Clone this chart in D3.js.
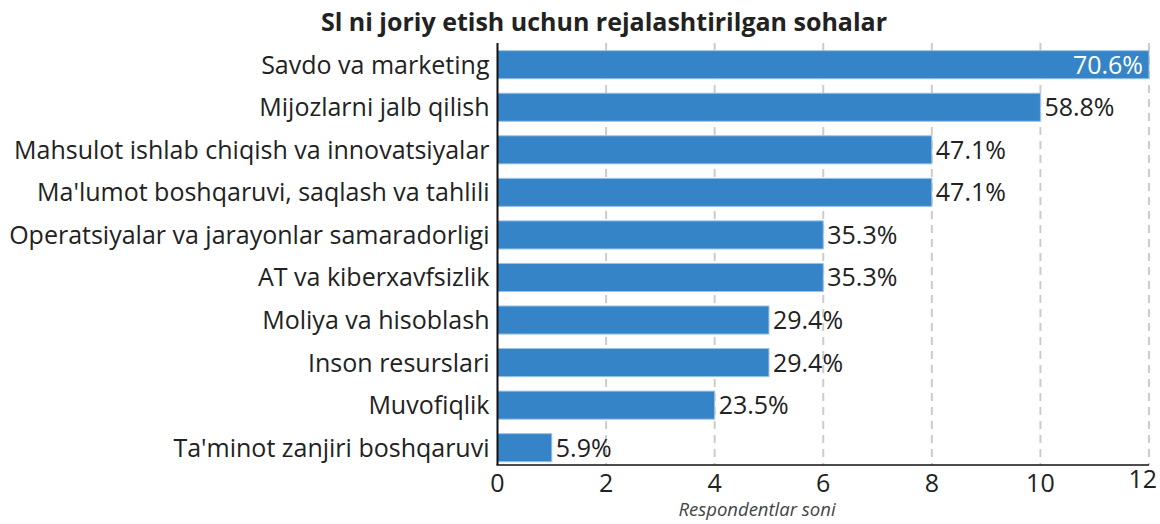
<!DOCTYPE html>
<html>
<head>
  <meta charset="utf-8">
  <title>Sl ni joriy etish</title>
  <script src="https://d3js.org/d3.v7.min.js"></script>
  <style>
    body { margin: 0; background: #fff; }
    text { font-family: "Open Sans", "Noto Sans", sans-serif; fill: #222; }
    .grid line { stroke: #cccccc; stroke-width: 2; stroke-dasharray: 8,6; }
  </style>
</head>
<body>
<div id="chart"></div>
<script>
// data
var categories = ["Savdo va marketing",
                  "Mijozlarni jalb qilish",
                  "Mahsulot ishlab chiqish va innovatsiyalar",
                  "Ma'lumot boshqaruvi, saqlash va tahlili",
                  "Operatsiyalar va jarayonlar samaradorligi",
                  "AT va kiberxavfsizlik",
                  "Moliya va hisoblash",
                  "Inson resurslari",
                  "Muvofiqlik",
                  "Ta'minot zanjiri boshqaruvi"];
var counts = [12, 10, 8, 8, 6, 6, 5, 5, 4, 1];
var percents = ["70.6%", "58.8%", "47.1%", "47.1%", "35.3%", "35.3%", "29.4%", "29.4%", "23.5%", "5.9%"];
var xTicks = [0, 2, 4, 6, 8, 10, 12];

var W = 1160, H = 524;
var plotLeft = 497.5, plotRight = 1149, plotTop = 43, axisY = 465;

var svg = d3.select("#chart").append("svg")
    .attr("width", W)
    .attr("height", H);

var x = d3.scaleLinear().domain([0, 12]).range([plotLeft, plotRight]);
var y = d3.scaleBand().domain(categories).range([plotTop, 469.4])
    .paddingInner(0.34).paddingOuter(0.18);

// dashed vertical grid
svg.append("g").attr("class", "grid")
  .selectAll("line")
  .data(xTicks.slice(1))
  .enter().append("line")
    .attr("x1", function(d) { return x(d); })
    .attr("x2", function(d) { return x(d); })
    .attr("y1", plotTop)
    .attr("y2", axisY);

// bars
svg.append("g")
  .selectAll("rect")
  .data(counts)
  .enter().append("rect")
    .attr("x", x(0))
    .attr("y", function(d, i) { return y(categories[i]); })
    .attr("width", function(d) { return x(d) - x(0); })
    .attr("height", y.bandwidth())
    .attr("fill", "#3584c8")
    .attr("stroke", "#9cc3e6")
    .attr("stroke-width", 1);

// value labels
svg.append("g")
  .selectAll("text")
  .data(counts)
  .enter().append("text")
    .attr("x", function(d) { return d >= 12 ? x(d) - 6 : x(d) + 4; })
    .attr("y", function(d, i) { return y(categories[i]) + y.bandwidth() / 2; })
    .attr("dy", "0.36em")
    .attr("text-anchor", function(d) { return d >= 12 ? "end" : "start"; })
    .style("font-size", "25px")
    .style("fill", function(d) { return d >= 12 ? "#ffffff" : "#222"; })
    .text(function(d, i) { return percents[i]; });

// category labels
svg.append("g")
  .selectAll("text")
  .data(categories)
  .enter().append("text")
    .attr("x", plotLeft - 8)
    .attr("y", function(d) { return y(d) + y.bandwidth() / 2; })
    .attr("dy", "0.36em")
    .attr("text-anchor", "end")
    .style("font-size", "25px")
    .text(function(d) { return d; });

// spines
svg.append("line")
  .attr("x1", plotLeft).attr("x2", plotLeft)
  .attr("y1", plotTop).attr("y2", axisY)
  .attr("stroke", "#111").attr("stroke-width", 2);
svg.append("line")
  .attr("x1", plotLeft - 1).attr("x2", plotRight)
  .attr("y1", axisY).attr("y2", axisY)
  .attr("stroke", "#111").attr("stroke-width", 1.5);

// tick labels
svg.append("g")
  .selectAll("text")
  .data(xTicks)
  .enter().append("text")
    .attr("x", function(d) { return x(d); })
    .attr("y", function(d) { return d == 12 ? 479 : 483; })
    .attr("dy", "0.36em")
    .attr("text-anchor", function(d) { return d == 12 ? "end" : "middle"; })
    .attr("dx", function(d) { return d == 12 ? 8 : 0; })
    .style("font-size", "25px")
    .text(function(d) { return d; });

// axis title
svg.append("text")
  .attr("x", 757)
  .attr("y", 510)
  .attr("dy", "0.35em")
  .attr("text-anchor", "middle")
  .style("font-size", "18.5px")
  .style("font-style", "italic")
  .style("fill", "#444")
  .text("Respondentlar soni");

// chart title
svg.append("text")
  .attr("x", 604)
  .attr("y", 22)
  .attr("dy", "0.36em")
  .attr("text-anchor", "middle")
  .style("font-size", "25px")
  .style("font-weight", "bold")
  .text("Sl ni joriy etish uchun rejalashtirilgan sohalar");
</script>
</body>
</html>
